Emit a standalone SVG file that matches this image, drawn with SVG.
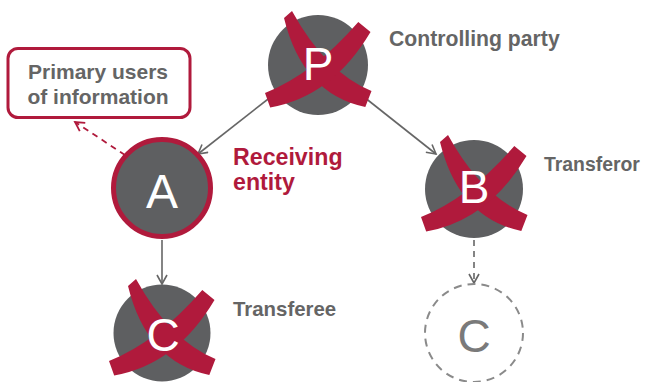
<svg xmlns="http://www.w3.org/2000/svg" xmlns:xlink="http://www.w3.org/1999/xlink" width="646" height="382" viewBox="0 0 646 382">
<style>
.node{fill:#5e5f61}
.ring{fill:#5e5f61;stroke:#b01a3c;stroke-width:5}
.ghost{fill:none;stroke:#8a8a8a;stroke-width:2;stroke-dasharray:8 6}
.letter{font-family:"Liberation Sans",Arial,sans-serif;fill:#ffffff;text-anchor:middle}
.gl{fill:#7a7a7a}
.lbl{font-family:"Liberation Sans",Arial,sans-serif;font-weight:bold;fill:#656565}
.red{fill:#b01a3c}
.x{fill:#b01a3c}
.conn{stroke:#666;stroke-width:1.6;fill:none}
.dash{stroke-dasharray:6 5}
.rconn{stroke:#b01a3c;stroke-width:1.8;fill:none;stroke-dasharray:6 5}
.box{fill:#fff;stroke:#b01a3c;stroke-width:3}
</style>
<defs>
<marker id="ag" viewBox="-10 -6 12 12" refX="0" refY="0" markerWidth="12" markerHeight="12" markerUnits="userSpaceOnUse" orient="auto">
<path d="M-9,-5 L0,0 L-9,5" fill="none" stroke="#666" stroke-width="1.6"/>
</marker>
<marker id="ar" viewBox="-10 -6 12 12" refX="0" refY="0" markerWidth="12" markerHeight="12" markerUnits="userSpaceOnUse" orient="auto">
<path d="M-9,-5 L0,0 L-9,5" fill="none" stroke="#b01a3c" stroke-width="1.8"/>
</marker>
<g id="xmark" class="x">
<path d="M-26,-54 Q7.5,7.2 53.5,26 L47.3,42 Q-15.5,28.8 -34,-47 Z"/>
<path d="M52.5,-33 Q14.2,31.5 -47.8,42.5 L-53,28 Q-4.2,8.5 40.3,-43 Z"/>
</g>
</defs>
<g id="connectors">
<line class="conn" x1="272" y1="96" x2="198" y2="154" marker-end="url(#ag)"/>
<line class="conn" x1="364" y1="97" x2="436" y2="154" marker-end="url(#ag)"/>
<line class="conn" x1="162" y1="240" x2="162" y2="284" marker-end="url(#ag)"/>
<line class="conn dash" x1="474" y1="240" x2="474" y2="283" marker-end="url(#ag)"/>
<line class="rconn" x1="125" y1="155" x2="75" y2="122" marker-end="url(#ar)"/>
</g>
<g id="node-users">
<rect class="box" x="8" y="48.5" width="182" height="69" rx="10"/>
<text class="lbl" x="98" y="79" text-anchor="middle" font-size="21">Primary users</text>
<text class="lbl" x="98" y="104" text-anchor="middle" font-size="21">of information</text>
</g>
<g id="node-P">
<circle class="node" cx="318" cy="65" r="50"/>
<use xlink:href="#xmark" transform="translate(318,65)"/>
<text class="letter" x="318" y="80" font-size="46">P</text>
<text class="lbl" x="389" y="46" font-size="21.2">Controlling party</text>
</g>
<g id="node-A">
<circle class="ring" cx="162" cy="188" r="48.5"/>
<text class="letter" x="162" y="208" font-size="48">A</text>
<text class="lbl red" x="233" y="165" font-size="23.2">Receiving</text>
<text class="lbl red" x="233" y="190" font-size="23.2">entity</text>
</g>
<g id="node-B">
<circle class="node" cx="474" cy="189" r="49"/>
<use xlink:href="#xmark" transform="translate(474,189)"/>
<text class="letter" x="474" y="203" font-size="46">B</text>
<text class="lbl" x="544" y="171" font-size="19.4">Transferor</text>
</g>
<g id="node-C">
<circle class="node" cx="162" cy="333" r="48.5"/>
<use xlink:href="#xmark" transform="translate(162,333)"/>
<text class="letter" x="163" y="351" font-size="46">C</text>
<text class="lbl" x="233" y="316" font-size="20.4">Transferee</text>
</g>
<g id="node-C2">
<circle class="ghost" cx="474" cy="333" r="49"/>
<text class="letter gl" x="474" y="352" font-size="46">C</text>
</g>
</svg>
